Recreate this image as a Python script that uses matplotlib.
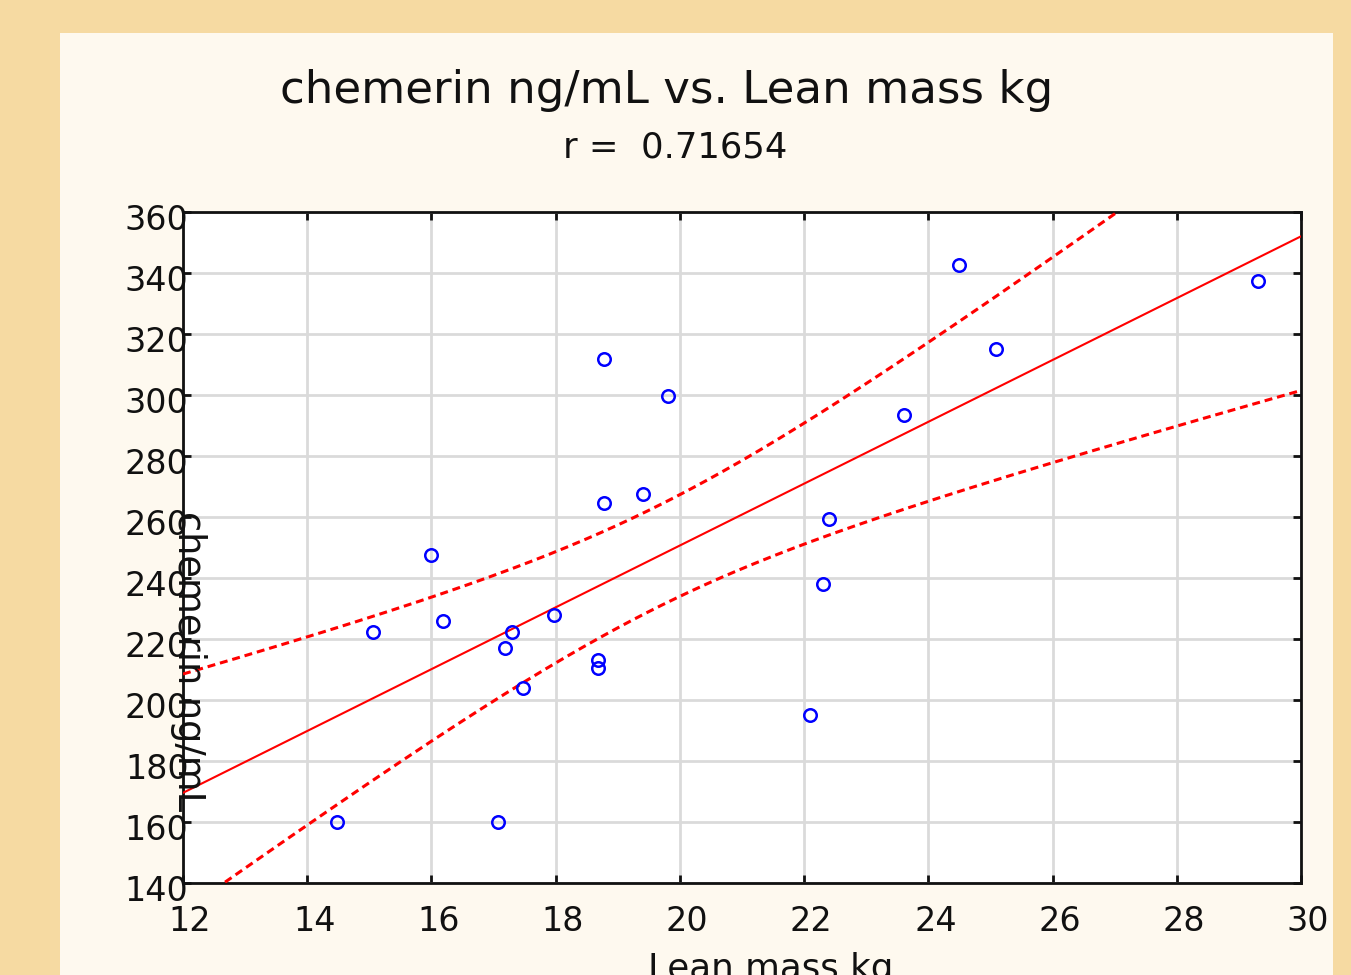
import numpy as np
import matplotlib
matplotlib.use("Agg")
import matplotlib.pyplot as plt
from matplotlib.patches import Rectangle
import matplotlib.transforms as mtransforms

# data
lean_mass = [14.48, 15.06, 15.99, 16.19, 17.07, 17.18, 17.30, 17.47, 17.97, 18.68,
             18.68, 18.78, 18.78, 19.41, 19.81, 22.10, 22.30, 22.40, 23.61, 24.49,
             25.09, 29.31]
chemerin = [160.0, 222.3, 247.5, 225.9, 160.0, 217.0, 222.3, 204.0, 227.9, 213.0,
            210.5, 311.8, 264.6, 267.5, 299.7, 195.1, 238.0, 259.3, 293.4, 342.6,
            315.1, 337.4]

xticks = [12, 14, 16, 18, 20, 22, 24, 26, 28, 30]
yticks = [140, 160, 180, 200, 220, 240, 260, 280, 300, 320, 340, 360]
t_crit = 2.086  # t(0.975, n-2=20)

x = np.array(lean_mass)
y = np.array(chemerin)
n = len(x)
b, a = np.polyfit(x, y, 1)
resid = y - (a + b * x)
s = np.sqrt(np.sum(resid ** 2) / (n - 2))
xm = x.mean()
sxx = np.sum((x - xm) ** 2)

xs = np.linspace(12, 30, 300)
fit = a + b * xs
half = t_crit * s * np.sqrt(1.0 / n + (xs - xm) ** 2 / sxx)

fig = plt.figure(figsize=(13.51, 9.75), dpi=100)
fig.patch.set_facecolor('#F6DAA2')
panel = Rectangle((60 / 1351, 0), (1333 - 60) / 1351, (975 - 33) / 975,
                  transform=fig.transFigure, facecolor='#FEF9EF', edgecolor='none', zorder=0)
fig.add_artist(panel)

ax = fig.add_axes([183 / 1351, 92 / 975, 1118 / 1351, 671 / 975])
ax.set_facecolor('white')

ax.plot(xs, fit, color='red', lw=1.5, zorder=3)
ax.plot(xs, fit + half, color='red', lw=2.2, ls=(0, (2.6, 1.6)), zorder=3)
ax.plot(xs, fit - half, color='red', lw=2.2, ls=(0, (2.6, 1.6)), zorder=3)
ax.plot(x, y, 'o', mfc='none', mec='blue', ms=9, mew=1.8, zorder=4)

ax.set_xlim(12, 30)
ax.set_ylim(140, 360)
ax.set_xticks(xticks)
ax.set_yticks(yticks)
ax.grid(True, color='#DADADA', lw=2)
ax.set_axisbelow(True)
for sp in ax.spines.values():
    sp.set_linewidth(2)
    sp.set_color('#111111')

ax.tick_params(axis='both', direction='in', length=6, width=2, labelsize=24,
               top=True, right=True, colors='#111111')
ax.tick_params(axis='x', pad=15.5)
ax.tick_params(axis='y', pad=-4)

# tick labels sit a little right/down of their ticks in the original
offx = mtransforms.ScaledTranslation(7 / 100, 0, fig.dpi_scale_trans)
for lab in ax.get_xticklabels():
    lab.set_transform(lab.get_transform() + offx)
offy = mtransforms.ScaledTranslation(0, -5 / 100, fig.dpi_scale_trans)
for lab in ax.get_yticklabels():
    lab.set_transform(lab.get_transform() + offy)

fig.text(667 / 1351, 1 - 90 / 975, 'chemerin ng/mL vs. Lean mass kg',
         ha='center', va='center', fontsize=32.5, color='#111111')
fig.text(675 / 1351, 1 - 148 / 975, 'r =  0.71654',
         ha='center', va='center', fontsize=25.5, color='#111111')
fig.text(771 / 1351, 1 - 969 / 975, 'Lean mass kg',
         ha='center', va='center', fontsize=25.7, color='#111111')
fig.text(188 / 1351, 1 - 661 / 975, 'chemerin ng/mL', rotation=270,
         ha='center', va='center', fontsize=26.5, color='#111111')

fig.savefig('out.png', dpi=100, facecolor=fig.get_facecolor())
